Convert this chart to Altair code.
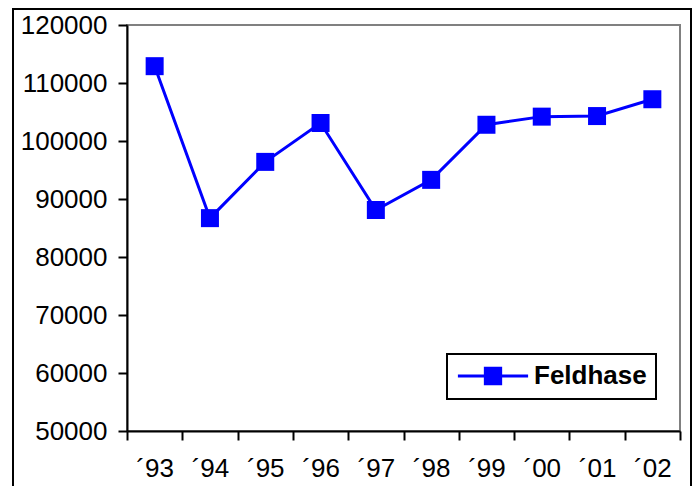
import altair as alt
import pandas as pd

years = ["\u00b493", "\u00b494", "\u00b495", "\u00b496", "\u00b497",
         "\u00b498", "\u00b499", "\u00b400", "\u00b401", "\u00b402"]
values = [112900, 86700, 96400, 103100, 88100, 93300, 102800, 104200, 104300, 107200]
series = ["Feldhase"] * len(years)
y_ticks = [50000, 60000, 70000, 80000, 90000, 100000, 110000, 120000]

df = pd.DataFrame({"year": years, "value": values, "series": series})

FONT = "Liberation Sans"
BLUE = "#0000ff"

x_enc = alt.X("year:O", sort=years, title=None,
              scale=alt.Scale(type="band", paddingInner=0, paddingOuter=0),
              axis=alt.Axis(labelAngle=0, tickBand="extent", labelFontSize=26,
                            labelFont=FONT, labelColor="black", labelPadding=15,
                            domainColor="black", domainWidth=2, tickColor="black",
                            tickWidth=2, tickSize=9, grid=False))
y_enc = alt.Y("value:Q", title=None,
              scale=alt.Scale(domain=[50000, 120000], nice=False, zero=False),
              axis=alt.Axis(values=y_ticks, format="d", labelFontSize=26,
                            labelFont=FONT, labelColor="black", labelPadding=11,
                            domainColor="black", domainWidth=2, tickColor="black",
                            tickWidth=2, tickSize=9, grid=False))

legend_symbol = "M-3.9,0H3.9M-0.85,-0.85H0.85V0.85H-0.85Z"

color_enc = alt.Color("series:N", title=None,
                      scale=alt.Scale(range=[BLUE]),
                      legend=alt.Legend(orient="none", legendX=320, legendY=329,
                                        symbolType=legend_symbol, symbolSize=324,
                                        symbolOffset=24,
                                        symbolFillColor=BLUE, symbolStrokeColor=BLUE,
                                        symbolStrokeWidth=3, symbolOpacity=1,
                                        labelFontSize=26, labelFont=FONT,
                                        labelFontWeight="bold", labelColor="black",
                                        labelOffset=28, padding=9,
                                        strokeColor="black", fillColor="white"))

line = alt.Chart(df).mark_line(strokeWidth=3, color=BLUE).encode(
    x=x_enc, y=y_enc, color=color_enc)
pts = alt.Chart(df).mark_point(shape="square", filled=True, size=324,
                               opacity=1, color=BLUE).encode(
    x=x_enc, y=y_enc)

border = alt.Chart(df).mark_rect(fill=None, stroke="black", strokeWidth=2,
                                 clip=False).encode(
    x=alt.value(-114), x2=alt.value(564), y=alt.value(-16), y2=alt.value(470))

chart = alt.layer(line, pts, border).properties(
    width=553, height=406,
    autosize=alt.AutoSizeParams(type="none"),
    padding={"left": 119, "top": 17, "right": 12, "bottom": 56},
    background="white",
).configure_view(stroke="#808080", strokeWidth=2).configure_legend(strokeWidth=2)

chart.save("out.html", embed_options={"renderer": "svg", "actions": False})
